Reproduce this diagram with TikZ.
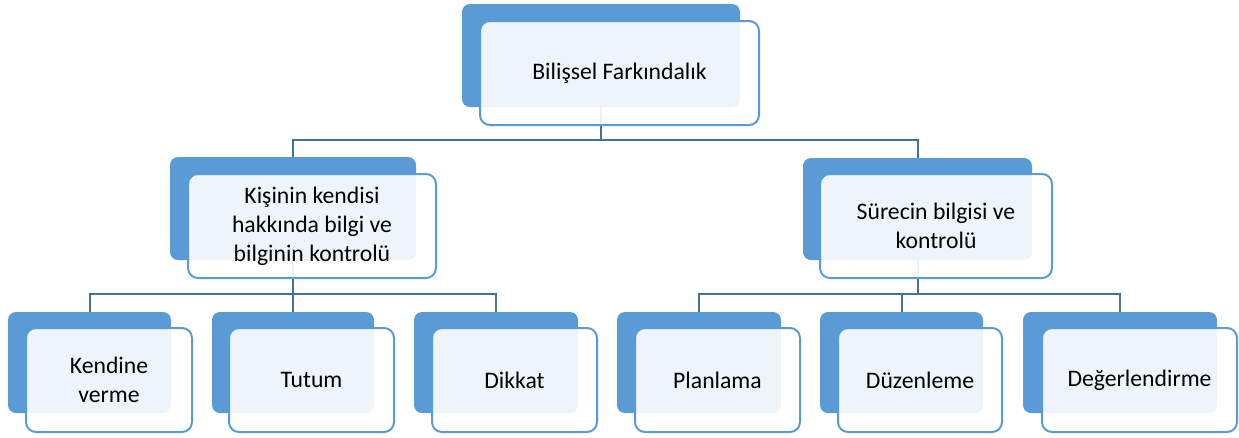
\documentclass[tikz,border=0pt]{standalone}
\usepackage{fontspec}
\setmainfont{Carlito}
\pgfdeclarelayer{bg}
\pgfsetlayers{bg,main}
\definecolor{accblue}{HTML}{5B9BD5}
\definecolor{lineblue}{HTML}{41719C}
\tikzset{
  back/.style={fill=accblue, rounded corners=8pt, inner sep=0pt, outer sep=0pt, minimum height=101pt},
  front/.style={draw=accblue, line width=2pt, fill=white, fill opacity=0.9, text opacity=1,
    rounded corners=10pt, inner sep=0pt, outer sep=0pt, align=center, minimum height=104pt,
    font=\fontsize{23.7pt}{29pt}\selectfont},
  conn/.style={draw=lineblue, line width=2pt}
}
\begin{document}
\begin{tikzpicture}[x=1pt,y=-1pt]
\useasboundingbox (0,0) rectangle (1239,437);
% level 0
\node[back, minimum width=278pt, minimum height=103pt] (b0) at (601,55.5) {};
\node[front, minimum width=279pt] (f0) at (619.5,73) {Bilişsel Farkındalık};
% level 1
\node[back, minimum width=246pt, minimum height=103pt] (bL) at (293,208.5) {};
\node[front, minimum width=248pt] (fL) at (312,226) {Kişinin kendisi\\hakkında bilgi ve\\bilginin kontrolü};
\node[back, minimum width=229pt, minimum height=102pt] (bR) at (917.5,209) {};
\node[front, minimum width=232pt] (fR) at (936,226) {Sürecin bilgisi ve\\kontrolü};
% level 2
\node[back, minimum width=163pt] (b1) at (89.5,362.5) {};
\node[front, minimum width=166pt] (f1) at (109,380) {Kendine\\verme};
\node[back, minimum width=162pt] (b2) at (293,362.5) {};
\node[front, minimum width=165pt] (f2) at (311.5,380) {Tutum};
\node[back, minimum width=164pt] (b3) at (496,362.5) {};
\node[front, minimum width=165pt] (f3) at (514.5,380) {Dikkat};
\node[back, minimum width=164pt] (b4) at (699,362.5) {};
\node[front, minimum width=165pt] (f4) at (717.5,380) {Planlama};
\node[back, minimum width=163pt] (b5) at (901.5,362.5) {};
\node[front, minimum width=164pt] (f5) at (920,380) {Düzenleme};
\node[back, minimum width=194pt] (b6) at (1120,362.5) {};
\node[front, minimum width=195pt] (f6) at (1139.5,380) {Değerlendirme};
% bus coordinates
\coordinate (bus0) at (0,140);
\coordinate (bus1) at (0,294);
\begin{pgfonlayer}{bg}
\draw[conn] (b0.south) -- (b0.south |- bus0) -| (bL.north);
\draw[conn] (b0.south |- bus0) -| (bR.north);
\draw[conn] (bL.south) -- (bL.south |- bus1) -| (b1.north);
\draw[conn] (bL.south |- bus1) -| (b2.north);
\draw[conn] (bL.south |- bus1) -| (b3.north);
\draw[conn] (bR.south) -- (bR.south |- bus1) -| (b4.north);
\draw[conn] (bR.south |- bus1) -| (b5.north);
\draw[conn] (bR.south |- bus1) -| (b6.north);
\end{pgfonlayer}
\end{tikzpicture}
\end{document}
